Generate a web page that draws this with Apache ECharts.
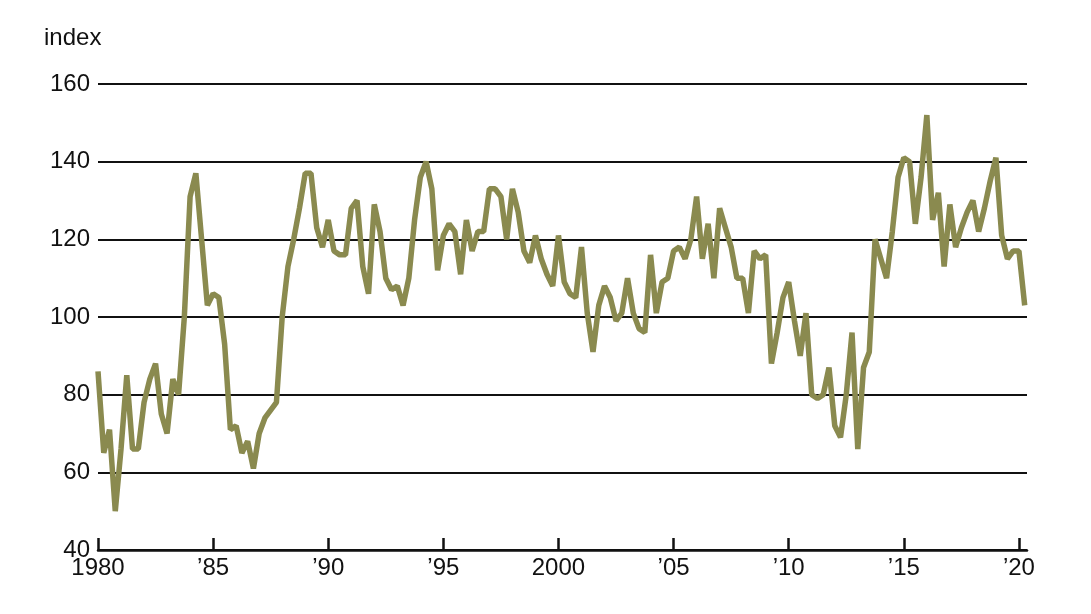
<!DOCTYPE html>
<html>
<head>
<meta charset="UTF-8">
<script src="https://cdn.jsdelivr.net/npm/echarts@6/dist/echarts.min.js"></script>
<style>
  html, body { margin: 0; padding: 0; background: #fff; }
  #chart { width: 1091px; height: 614px; }
</style>
</head>
<body>
<div id="chart"></div>
<script>
// quarterly index, 1980Q1 .. 2020Q2
const startYear = 1980;
const values = [
  86, 65, 71, 50, 66, 85, 66, 66, 78, 84, 88, 75, 70, 84, 80, 100,
  131, 137, 120, 103, 106, 105, 93, 71, 72, 65, 68, 61, 70, 74, 76, 78,
  100, 113, 120, 128, 137, 137, 123, 118, 125, 117, 116, 116, 128, 130, 113, 106,
  129, 122, 110, 107, 108, 103, 110, 125, 136, 140, 133, 112, 121, 124, 122, 111,
  125, 117, 122, 122, 133, 133, 131, 120, 133, 127, 117, 114, 121, 115, 111, 108,
  121, 109, 106, 105, 118, 101, 91, 103, 108, 105, 99, 101, 110, 101, 97, 96,
  116, 101, 109, 110, 117, 118, 115, 120, 131, 115, 124, 110, 128, 123, 118, 110,
  110, 101, 117, 115, 116, 88, 96, 105, 109, 99, 90, 101, 80, 79, 80, 87,
  72, 69, 80, 96, 66, 87, 91, 120, 115, 110, 122, 136, 141, 140, 124, 136,
  152, 125, 132, 113, 129, 118, 123, 127, 130, 122, 128, 135, 141, 121, 115, 117,
  117, 103
];
const yTicks = [40, 60, 80, 100, 120, 140, 160];

const points = values.map((v, i) => [startYear + i / 4, v]);

const chart = echarts.init(document.getElementById('chart'));
const font = 'Liberation Sans, Arial, sans-serif';

chart.setOption({
  animation: false,
  grid: { left: 98, right: 64, top: 84, bottom: 64 },
  graphic: [{
    type: 'text', left: 44, top: 26,
    style: { text: 'index', fontSize: 24, fontFamily: font, fill: '#111' }
  }],
  xAxis: {
    type: 'value',
    min: 1980, max: 2020.35, interval: 5,
    axisLine: { lineStyle: { color: '#111', width: 2.5 } },
    axisTick: { show: true, inside: true, length: 12, lineStyle: { color: '#111', width: 2.5 } },
    splitLine: { show: false },
    axisLabel: {
      fontSize: 24, fontFamily: font, color: '#111', margin: 6, showMaxLabel: false,
      formatter: v => v === 1980 || v === 2000 ? String(v) : '\u2019' + String(v).slice(2)
    }
  },
  yAxis: {
    type: 'value',
    min: yTicks[0], max: yTicks[yTicks.length - 1], interval: 20,
    axisLine: { show: false },
    axisTick: { show: false },
    splitLine: { lineStyle: { color: '#111', width: 2.2 } },
    axisLabel: { fontSize: 24, fontFamily: font, color: '#111', margin: 8 }
  },
  series: [{
    type: 'line',
    data: points,
    showSymbol: false,
    lineStyle: { color: '#8a8a4f', width: 5.5 },
    z: 3
  }]
});
</script>
</body>
</html>
